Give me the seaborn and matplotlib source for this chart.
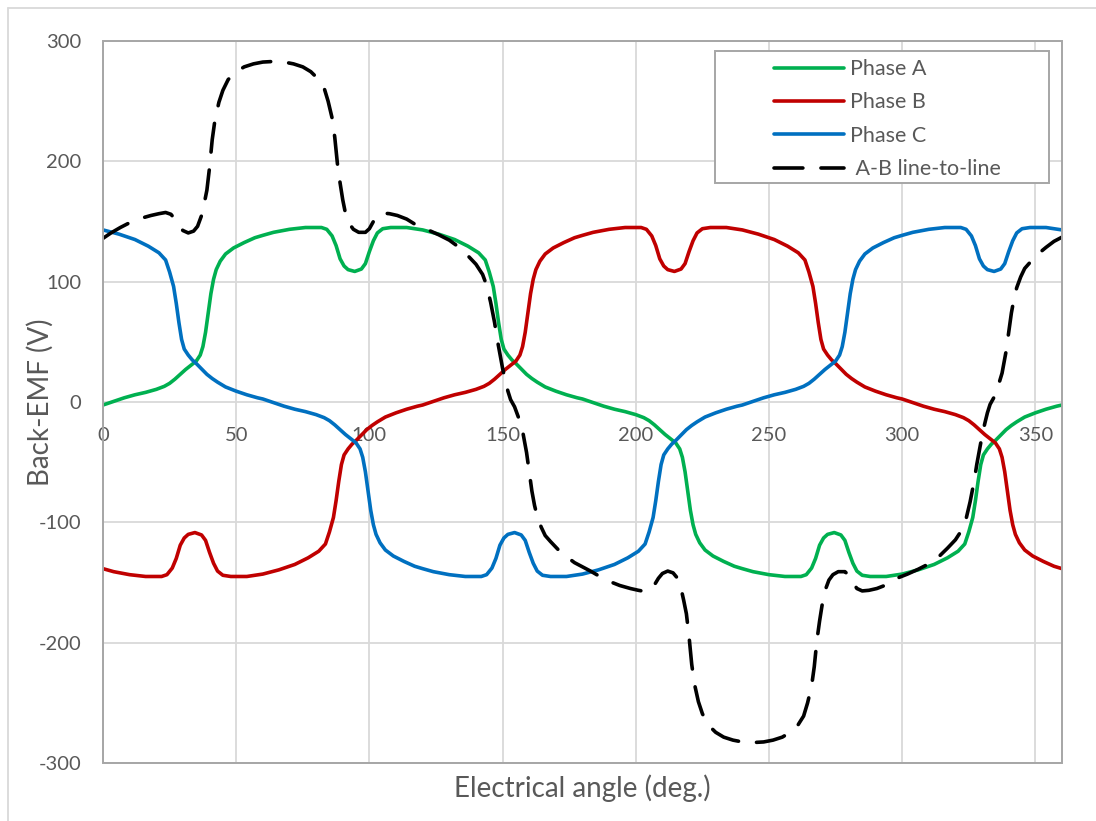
import matplotlib
matplotlib.use("Agg")
import matplotlib.pyplot as plt
from matplotlib.lines import Line2D
from matplotlib.patches import Rectangle
import pandas as pd
import seaborn as sns

# ---- Back-EMF waveforms (V) against electrical angle (deg) ----
angle_a = [0, 4, 8, 12, 16, 20, 23, 25, 27, 29, 31, 33, 35, 36.5, 37.5, 38.5, 39.5, 40.5, 41.5, 42.5,
           44, 46, 49, 53, 57, 60, 64, 70, 76, 82, 84, 86, 87.5, 89, 90.5, 92, 94.5, 97, 98.5, 100,
           101.5, 103, 105, 108, 114, 120, 126, 132, 137, 141, 143.5, 145, 146.5, 147.5, 148.5, 149.5,
           150.5, 152, 153.5, 155, 157, 159, 161, 163, 166, 170, 174, 178, 180,
           184, 188, 192, 196, 200, 203, 205, 207, 209, 211, 213, 215, 216.5, 217.5, 218.5, 219.5,
           220.5, 221.5, 222.5, 224, 226, 229, 233, 237, 240, 244, 250, 256, 262, 264, 266, 267.5,
           269, 270.5, 272, 274.5, 277, 278.5, 280, 281.5, 283, 285, 288, 294, 300, 306, 312, 317,
           321, 323.5, 325, 326.5, 327.5, 328.5, 329.5, 330.5, 332, 333.5, 335, 337, 339, 341, 343,
           346, 350, 354, 358, 360]
emf_a = [-2.5, 0.5, 3.5, 6, 8, 10.5, 13, 15.5, 19, 23, 27, 30.5, 34, 39, 46, 58, 74, 90, 102, 110,
         117, 123, 128, 132.5, 136.5, 138.5, 141, 143.5, 145, 145, 143.5, 138, 130, 119, 113, 110,
         108.5, 110.5, 115, 125, 134, 140.5, 144, 145, 145, 143, 139.5, 135, 129.5, 124, 118, 108,
         96, 82, 66, 52, 44, 39, 35, 32, 27.5, 23, 19.5, 16.5, 12.5, 9, 6, 3.5, 2.5,
         -0.5, -3.5, -6, -8, -10.5, -13, -15.5, -19, -23, -27, -30.5, -34, -39, -46, -58, -74, -90,
         -102, -110, -117, -123, -128, -132.5, -136.5, -138.5, -141, -143.5, -145, -145, -143.5,
         -138, -130, -119, -113, -110, -108.5, -110.5, -115, -125, -134, -140.5, -144, -145, -145,
         -143, -139.5, -135, -129.5, -124, -118, -108, -96, -82, -66, -52, -44, -39, -35, -32,
         -27.5, -23, -19.5, -16.5, -12.5, -9, -6, -3.5, -2.5]

angle_b = [0, 4, 10, 16, 22, 24, 26, 27.5, 29, 30.5, 32, 34.5, 37, 38.5, 40, 41.5, 43, 45, 48, 54,
           60, 66, 72, 77, 81, 83.5, 85, 86.5, 87.5, 88.5, 89.5, 90.5, 92, 93.5, 95, 97, 99, 101,
           103, 106, 110, 114, 118, 120,
           124, 128, 132, 136, 140, 143, 145, 147, 149, 151, 153, 155, 156.5, 157.5, 158.5, 159.5,
           160.5, 161.5, 162.5, 164, 166, 169, 173, 177, 180, 184, 190, 196, 202, 204, 206, 207.5,
           209, 210.5, 212, 214.5, 217, 218.5, 220, 221.5, 223, 225, 228, 234, 240, 246, 252, 257,
           261, 263.5, 265, 266.5, 267.5, 268.5, 269.5, 270.5, 272, 273.5, 275, 277, 279, 281, 283,
           286, 290, 294, 298, 300,
           304, 308, 312, 316, 320, 323, 325, 327, 329, 331, 333, 335, 336.5, 337.5, 338.5, 339.5,
           340.5, 341.5, 342.5, 344, 346, 349, 353, 357, 360]
emf_b = [-138.5, -141, -143.5, -145, -145, -143.5, -138, -130, -119, -113, -110, -108.5, -110.5,
         -115, -125, -134, -140.5, -144, -145, -145, -143, -139.5, -135, -129.5, -124, -118, -108,
         -96, -82, -66, -52, -44, -39, -35, -32, -27.5, -23, -19.5, -16.5, -12.5, -9, -6, -3.5, -2.5,
         0.5, 3.5, 6, 8, 10.5, 13, 15.5, 19, 23, 27, 30.5, 34, 39, 46, 58, 74, 90, 102, 110, 117,
         123, 128, 132.5, 136.5, 138.5, 141, 143.5, 145, 145, 143.5, 138, 130, 119, 113, 110, 108.5,
         110.5, 115, 125, 134, 140.5, 144, 145, 145, 143, 139.5, 135, 129.5, 124, 118, 108, 96, 82,
         66, 52, 44, 39, 35, 32, 27.5, 23, 19.5, 16.5, 12.5, 9, 6, 3.5, 2.5,
         -0.5, -3.5, -6, -8, -10.5, -13, -15.5, -19, -23, -27, -30.5, -34, -39, -46, -58, -74, -90,
         -102, -110, -117, -123, -128, -132.5, -136.5, -138.5]

angle_c = [0, 6, 12, 17, 21, 23.5, 25, 26.5, 27.5, 28.5, 29.5, 30.5, 32, 33.5, 35, 37, 39, 41, 43,
           46, 50, 54, 58, 60,
           64, 68, 72, 76, 80, 83, 85, 87, 89, 91, 93, 95, 96.5, 97.5, 98.5, 99.5, 100.5, 101.5,
           102.5, 104, 106, 109, 113, 117, 120, 124, 130, 136, 142, 144, 146, 147.5, 149, 150.5,
           152, 154.5, 157, 158.5, 160, 161.5, 163, 165, 168, 174, 180, 186, 192, 197, 201, 203.5,
           205, 206.5, 207.5, 208.5, 209.5, 210.5, 212, 213.5, 215, 217, 219, 221, 223, 226, 230,
           234, 238, 240,
           244, 248, 252, 256, 260, 263, 265, 267, 269, 271, 273, 275, 276.5, 277.5, 278.5, 279.5,
           280.5, 281.5, 282.5, 284, 286, 289, 293, 297, 300, 304, 310, 316, 322, 324, 326, 327.5,
           329, 330.5, 332, 334.5, 337, 338.5, 340, 341.5, 343, 345, 348, 354, 360]
emf_c = [143, 139.5, 135, 129.5, 124, 118, 108, 96, 82, 66, 52, 44, 39, 35, 32, 27.5, 23, 19.5,
         16.5, 12.5, 9, 6, 3.5, 2.5,
         -0.5, -3.5, -6, -8, -10.5, -13, -15.5, -19, -23, -27, -30.5, -34, -39, -46, -58, -74, -90,
         -102, -110, -117, -123, -128, -132.5, -136.5, -138.5, -141, -143.5, -145, -145, -143.5,
         -138, -130, -119, -113, -110, -108.5, -110.5, -115, -125, -134, -140.5, -144, -145, -145,
         -143, -139.5, -135, -129.5, -124, -118, -108, -96, -82, -66, -52, -44, -39, -35, -32,
         -27.5, -23, -19.5, -16.5, -12.5, -9, -6, -3.5, -2.5,
         0.5, 3.5, 6, 8, 10.5, 13, 15.5, 19, 23, 27, 30.5, 34, 39, 46, 58, 74, 90, 102, 110, 117,
         123, 128, 132.5, 136.5, 138.5, 141, 143.5, 145, 145, 143.5, 138, 130, 119, 113, 110, 108.5,
         110.5, 115, 125, 134, 140.5, 144, 145, 145, 143]

angle_ab = [0, 3, 6.5, 10, 14, 18, 21, 23.5, 25.5, 27, 28.5, 30, 32, 34, 35.5, 37, 38, 39, 40, 41,
            42, 43.5, 45, 47, 50, 53, 56.5, 60, 64, 68, 71.5, 75, 78, 81, 83, 84.5, 86, 87, 88, 89,
            90, 91, 92.5, 94, 96, 98.5, 100, 101.5, 103, 105, 107.5, 110.5, 114, 118, 122, 126,
            130, 134, 137, 140, 142.5, 144, 145.5, 147, 148, 149, 150, 151, 152, 153, 154.5, 156,
            157.5, 159, 160, 161, 162, 163, 164.5, 166, 168, 171, 174, 177, 180,
            183, 186.5, 190, 194, 198, 201, 203.5, 205.5, 207, 208.5, 210, 212, 214, 215.5, 217,
            218, 219, 220, 221, 222, 223.5, 225, 227, 230, 233, 236.5, 240, 244, 248, 251.5, 255,
            258, 261, 263, 264.5, 266, 267, 268, 269, 270, 271, 272.5, 274, 276, 278.5, 280,
            281.5, 283, 285, 287.5, 290.5, 294, 298, 302, 306, 310, 314, 317, 320, 322.5, 324,
            325.5, 327, 328, 329, 330, 331, 332, 333, 334.5, 336, 337.5, 339, 340, 341, 342, 343,
            344.5, 346, 348, 351, 354, 357, 360]
emf_ab = [136, 140.5, 145, 149, 152.5, 155, 156.5, 157.5, 156, 152, 146.5, 142.5, 140.5, 142, 146,
          155, 165, 176, 195, 218, 234, 249, 259, 268, 274.5, 278.5, 281, 282.5, 283, 282.5, 281,
          278.5, 274.5, 268, 261, 250, 236, 220, 198, 182, 168, 157, 148, 143.5, 141, 141, 144,
          150, 155, 157, 156.5, 155, 152, 146.5, 143, 139, 134.5, 128, 121.5, 114.5, 106, 97, 83,
          66, 52, 40, 28, 18, 9, 2, -4, -13, -24, -42, -58, -74, -86, -95, -104, -111, -116, -123,
          -128.5, -133.5, -137,
          -140.5, -145, -149, -152.5, -155, -156.5, -157.5, -156, -152, -146.5, -142.5, -140.5,
          -142, -146, -155, -165, -176, -195, -218, -234, -249, -259, -268, -274.5, -278.5, -281,
          -282.5, -283, -282.5, -281, -278.5, -274.5, -268, -261, -250, -236, -220, -198, -182,
          -168, -157, -148, -143.5, -141, -141, -144, -150, -155, -157, -156.5, -155, -152,
          -146.5, -143, -139, -134.5, -128, -121.5, -114.5, -106, -97, -83, -66, -52, -40, -28,
          -18, -9, -2, 4, 13, 24, 42, 58, 74, 86, 95, 104, 111, 116, 123, 128.5, 133.5, 137]

series_names = ["Phase A", "Phase B", "Phase C", " A-B line-to-line"]
series_colors = ["#00B050", "#C00000", "#0070C0", "#000000"]
x_ticks = list(range(0, 351, 50))
y_ticks = list(range(-300, 301, 100))

frames = [
    pd.DataFrame({"angle": ang, "emf": emf, "series": name})
    for name, ang, emf in zip(series_names,
                              [angle_a, angle_b, angle_c, angle_ab],
                              [emf_a, emf_b, emf_c, emf_ab])
]
df = pd.concat(frames, ignore_index=True)

# ---- styling ----
sns.set_theme(style="white")
plt.rcParams["font.family"] = ["Lato", "DejaVu Sans"]
plt.rcParams["axes.unicode_minus"] = False
TEXT = "#595959"
GRID = "#D9D9D9"
BORDER = "#A6A6A6"

W, H = 1096, 821
fig = plt.figure(figsize=(W / 100, H / 100), dpi=100)
fig.patch.set_facecolor("white")
ax = fig.add_axes([103 / W, 58 / H, 959 / W, 722 / H])

for name, color in zip(series_names, series_colors):
    sub = df[df["series"] == name]
    extra = {}
    if "line-to-line" in name:
        extra = dict(linestyle=(0, (8, 5)), dash_capstyle="round")
    sns.lineplot(data=sub, x="angle", y="emf", ax=ax, color=color, linewidth=2.6,
                 label=name, estimator=None, sort=False, solid_capstyle="round", **extra)

ax.set_xlim(0, 360)
ax.set_ylim(-300, 300)
ax.set_xticks(x_ticks)
ax.set_yticks(y_ticks)
ax.grid(True, color=GRID, linewidth=1.3)
ax.set_axisbelow(True)

for side in ["top", "right", "left", "bottom"]:
    ax.spines[side].set_visible(False)
# horizontal axis crosses at zero: its labels sit just under the 0 line
ax.spines["bottom"].set_position(("data", 0))

ax.tick_params(axis="both", length=0, labelsize=14.5, labelcolor=TEXT)
ax.tick_params(axis="x", pad=18)
ax.tick_params(axis="y", pad=15.5)

# plot-area border
ax.add_patch(Rectangle((0, 0), 1, 1, transform=ax.transAxes, fill=False,
                       edgecolor=BORDER, linewidth=1.4, clip_on=False, zorder=3))

ax.set_xlabel("Electrical angle (deg.)", fontsize=20, color=TEXT)
ax.xaxis.set_label_coords(0.5, -0.035)
ax.xaxis.label.set_va("center")
ax.set_ylabel("Back-EMF (V)", fontsize=20, color=TEXT)
ax.yaxis.set_label_coords(-0.0657, 0.5)
ax.yaxis.label.set_va("center")

# legend box and entries
ax.add_patch(Rectangle((0.638, 0.8033), 0.3484, 0.1828, transform=ax.transAxes,
                       facecolor="white", edgecolor=BORDER, linewidth=1.4, zorder=4))
leg = ax.legend(loc="upper left", bbox_to_anchor=(0.6997, 0.975), frameon=False,
                fontsize=15.5, handlelength=3.25, handletextpad=0.3, labelspacing=0.62,
                borderpad=0, borderaxespad=0)
leg.set_zorder(5)
for t in leg.get_texts():
    t.set_color(TEXT)

# outer chart frame
fig.add_artist(Line2D([8 / W, 1], [1 - 8 / H, 1 - 8 / H], transform=fig.transFigure,
                      color=GRID, linewidth=1.3))
fig.add_artist(Line2D([8 / W, 8 / W], [0, 1 - 8 / H], transform=fig.transFigure,
                      color=GRID, linewidth=1.3))

fig.savefig("out.png", dpi=100)
